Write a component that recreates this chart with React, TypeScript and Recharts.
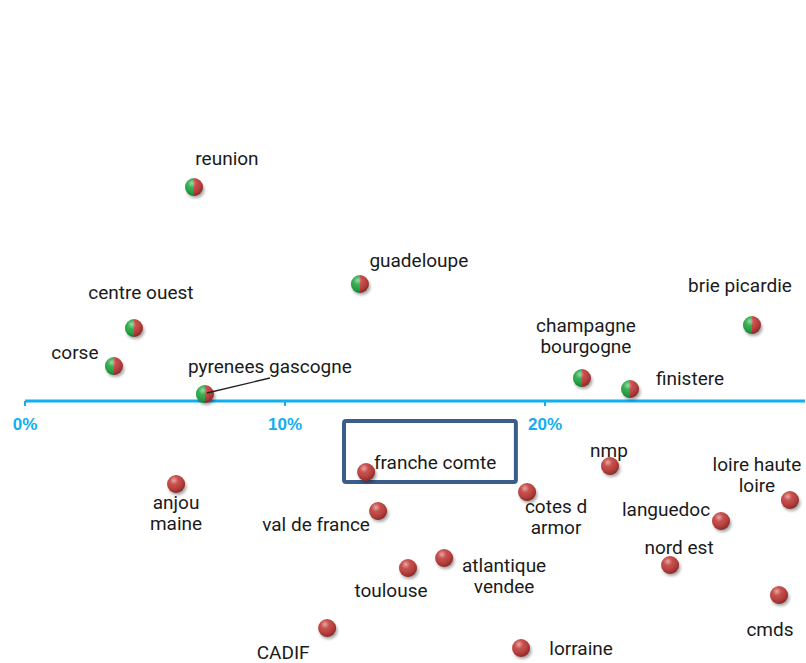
import React, { ReactElement } from "react";
import { ScatterChart, Scatter, XAxis, YAxis, ReferenceLine, ReferenceDot, ReferenceArea } from "recharts";

// region names, "\n" splits the label on two lines
const regions = [
  "reunion",
  "guadeloupe",
  "centre ouest",
  "corse",
  "pyrenees gascogne",
  "champagne\nbourgogne",
  "finistere",
  "brie picardie",
  "anjou\nmaine",
  "franche comte",
  "val de france",
  "cotes d\narmor",
  "nmp",
  "loire haute\nloire",
  "languedoc",
  "nord est",
  "atlantique\nvendee",
  "toulouse",
  "cmds",
  "CADIF",
  "lorraine"
];

// horizontal value (share)
const xValues = [
  0.065, 0.1288, 0.0419, 0.0342, 0.0692, 0.2142, 0.2327, 0.2796, 0.0581, 0.1312, 0.1358, 0.1931, 0.225, 0.2942,
  0.2677, 0.2481, 0.1612, 0.1473, 0.29, 0.1162, 0.1908
];

// vertical score, no axis shown
const yValues = [
  21.4, 11.7, 7.3, 3.5, 0.7, 2.3, 1.2, 7.6, -8.3, -7.1, -11.0, -9.1, -6.5, -9.9, -12.0, -16.4, -15.7, -16.7, -19.4,
  -22.7, -24.7
];

const xTicks = [0, 0.1, 0.2];

// label placement relative to the point (px)
const labelOffsets: [number, number][] = [
  [33, -29],
  [59, -24],
  [7, -36],
  [-39, -14],
  [65, -28],
  [4, -42],
  [60, -11],
  [-12, -40],
  [0, 29],
  [69, -10],
  [-62, 13],
  [29, 25],
  [-1, -16],
  [-33, -25],
  [-55, -12],
  [9, -18],
  [60, 18],
  [-17, 22],
  [-9, 34],
  [-44, 24],
  [60, 0]
];

type Point = { name: string; x: number; y: number; idx: number };

const data: Point[] = regions.map((name, i) => ({ name, x: xValues[i], y: yValues[i], idx: i }));
const above = data.filter((d) => d.y >= 0);
const below = data.filter((d) => d.y < 0);

const AXIS_BLUE = "#12aef0";
const GREEN = "#25a843";
const RED = "#c2403d";
const R = 9;

function Label(props: { cx: number; cy: number; name: string; idx: number }) {
  const [dx, dy] = labelOffsets[props.idx];
  const lines = props.name.split("\n");
  const lh = 21;
  const top = props.cy + dy - ((lines.length - 1) * lh) / 2;
  return (
    <text
      x={props.cx + dx}
      textAnchor="middle"
      fontFamily="Roboto, Arial, sans-serif"
      fontSize={19}
      fill="#1a1a1a"
    >
      {lines.map((l, i) => (
        <tspan key={i} x={props.cx + dx} y={top + i * lh} dominantBaseline="central">
          {l}
        </tspan>
      ))}
    </text>
  );
}

function Ball(props: any): ReactElement {
  const { cx, cy, payload, twoTone } = props;
  const leader = payload.name === "pyrenees gascogne";
  return (
    <g>
      <ellipse cx={cx + 1.5} cy={cy + 3} rx={R} ry={R - 1} fill="#000" opacity={0.35} filter="url(#blur)" />
      {twoTone ? (
        <>
          <path d={`M${cx},${cy - R} A${R},${R} 0 0 0 ${cx},${cy + R} Z`} fill={GREEN} />
          <path d={`M${cx},${cy - R} A${R},${R} 0 0 1 ${cx},${cy + R} Z`} fill={RED} />
        </>
      ) : (
        <circle cx={cx} cy={cy} r={R} fill={RED} />
      )}
      <circle cx={cx} cy={cy} r={R} fill="url(#shine)" />
      {leader && <line x1={cx + 2} y1={cy - 1} x2={cx + 65} y2={cy - 16} stroke="#222" strokeWidth={1.3} />}
      <Label cx={cx} cy={cy} name={payload.name} idx={payload.idx} />
    </g>
  );
}

function Tick(props: any): ReactElement {
  const { cx, cy, label } = props;
  return (
    <g>
      <line x1={cx} y1={cy} x2={cx} y2={cy + 5} stroke={AXIS_BLUE} strokeWidth={2} />
      <text
        x={cx}
        y={cy + 23}
        textAnchor="middle"
        dominantBaseline="central"
        fontFamily="Arial, 'Liberation Sans', sans-serif"
        fontWeight="bold"
        fontSize={17}
        fill={AXIS_BLUE}
      >
        {label}
      </text>
    </g>
  );
}

export default function App(): ReactElement {
  return (
    <div style={{ position: "absolute", left: 0, top: 0, background: "#fff" }}>
      <ScatterChart width={806} height={663} margin={{ top: 11, right: 1, left: 25, bottom: 2 }}>
        <defs>
          <radialGradient id="shine" cx="0.38" cy="0.3" r="0.7">
            <stop offset="0" stopColor="#fff" stopOpacity={0.55} />
            <stop offset="0.35" stopColor="#fff" stopOpacity={0.08} />
            <stop offset="0.8" stopColor="#000" stopOpacity={0.12} />
            <stop offset="1" stopColor="#000" stopOpacity={0.3} />
          </radialGradient>
          <filter id="blur" x="-50%" y="-50%" width="200%" height="200%">
            <feGaussianBlur stdDeviation="1.8" />
          </filter>
        </defs>
        <XAxis type="number" dataKey="x" domain={[0, 0.3]} hide />
        <YAxis type="number" dataKey="y" domain={[-26, 39]} hide />
        <ReferenceArea
          x1={0.1227}
          x2={0.1888}
          y1={-2.0}
          y2={-8.1}
          fill="none"
          stroke="#3a5d8c"
          strokeWidth={4}
          radius={2}
        />
        <ReferenceLine y={0} stroke={AXIS_BLUE} strokeWidth={3} />
        {xTicks.map((t) => (
          <ReferenceDot
            key={t}
            x={t}
            y={0}
            shape={(p: any) => <Tick {...p} label={`${Math.round(t * 100)}%`} />}
          />
        ))}
        <Scatter data={above} isAnimationActive={false} shape={(p: any) => <Ball {...p} twoTone />} />
        <Scatter data={below} isAnimationActive={false} shape={(p: any) => <Ball {...p} />} />
      </ScatterChart>
    </div>
  );
}
